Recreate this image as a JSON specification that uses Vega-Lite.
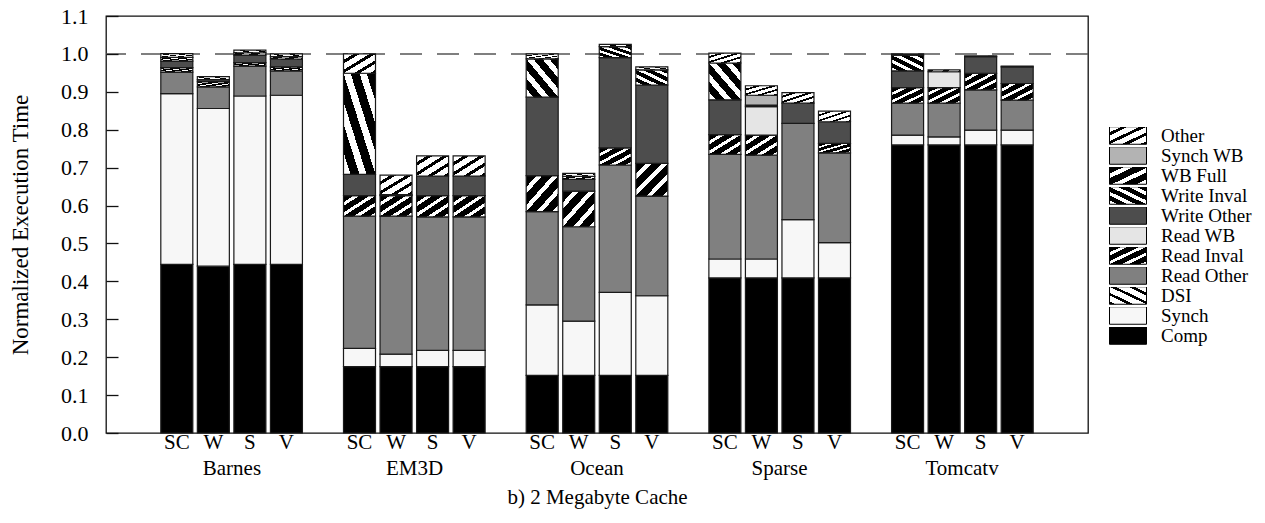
{
  "$schema": "https://vega.github.io/schema/vega-lite/v6.json",
  "width": 982,
  "height": 417,
  "autosize": {"type": "none"},
  "padding": {"left": 106, "top": 16, "right": 177, "bottom": 90},
  "background": "white",
  "config": {
    "font": "Liberation Serif",
    "view": {"stroke": "#111", "strokeWidth": 1.3},
    "axis": {"labelColor": "#000", "titleColor": "#000", "titleFontWeight": "normal", "labelFont": "Liberation Serif", "titleFont": "Liberation Serif"},
    "legend": {"labelColor": "#000", "labelFont": "Liberation Serif"}
  },
  "datasets": {
    "bars": [
      {"b": "Barnes", "c": "SC", "k": "Barnes SC", "Comp": 0.445, "Synch": 0.45, "Read Other": 0.057, "Read Inval": 0.012, "Write Other": 0.017, "Write Inval": 0.01, "Other": 0.01},
      {"b": "Barnes", "c": "W", "k": "Barnes W", "Comp": 0.44, "Synch": 0.416, "Read Other": 0.057, "Read Inval": 0.014, "Write Other": 0.005, "Other": 0.008},
      {"b": "Barnes", "c": "S", "k": "Barnes S", "Comp": 0.445, "Synch": 0.444, "Read Other": 0.079, "Read Inval": 0.009, "Write Other": 0.02, "Write Inval": 0.006, "Other": 0.007},
      {"b": "Barnes", "c": "V", "k": "Barnes V", "Comp": 0.445, "Synch": 0.446, "Read Other": 0.064, "Read Inval": 0.011, "Write Other": 0.02, "Write Inval": 0.007, "Other": 0.007},
      {"b": "EM3D", "c": "SC", "k": "EM3D SC", "Comp": 0.175, "Synch": 0.048, "Read Other": 0.349, "Read Inval": 0.054, "Write Other": 0.056, "Write Inval": 0.267, "Other": 0.051},
      {"b": "EM3D", "c": "W", "k": "EM3D W", "Comp": 0.175, "Synch": 0.033, "Read Other": 0.364, "Read Inval": 0.054, "Write Other": 0.003, "Other": 0.051},
      {"b": "EM3D", "c": "S", "k": "EM3D S", "Comp": 0.175, "Synch": 0.043, "Read Other": 0.352, "Read Inval": 0.056, "Write Other": 0.052, "Other": 0.053},
      {"b": "EM3D", "c": "V", "k": "EM3D V", "Comp": 0.175, "Synch": 0.043, "Read Other": 0.352, "Read Inval": 0.056, "Write Other": 0.052, "Other": 0.053},
      {"b": "Ocean", "c": "SC", "k": "Ocean SC", "Comp": 0.152, "Synch": 0.186, "Read Other": 0.246, "Read Inval": 0.095, "Write Other": 0.207, "Write Inval": 0.101, "Other": 0.013},
      {"b": "Ocean", "c": "W", "k": "Ocean W", "Comp": 0.152, "Synch": 0.143, "Read Other": 0.249, "Read Inval": 0.094, "Write Other": 0.031, "Write Inval": 0.008, "Other": 0.008},
      {"b": "Ocean", "c": "S", "k": "Ocean S", "Comp": 0.152, "Synch": 0.219, "Read Other": 0.336, "Read Inval": 0.045, "Write Other": 0.238, "Write Inval": 0.029, "Other": 0.006},
      {"b": "Ocean", "c": "V", "k": "Ocean V", "Comp": 0.152, "Synch": 0.21, "Read Other": 0.263, "Read Inval": 0.086, "Write Other": 0.207, "Write Inval": 0.04, "Other": 0.008},
      {"b": "Sparse", "c": "SC", "k": "Sparse SC", "Comp": 0.409, "Synch": 0.05, "Read Other": 0.276, "Read Inval": 0.052, "Write Other": 0.092, "Write Inval": 0.097, "Other": 0.026},
      {"b": "Sparse", "c": "W", "k": "Sparse W", "Comp": 0.409, "Synch": 0.05, "Read Other": 0.274, "Read Inval": 0.053, "Read WB": 0.075, "Write Other": 0.004, "Synch WB": 0.026, "Other": 0.025},
      {"b": "Sparse", "c": "S", "k": "Sparse S", "Comp": 0.409, "Synch": 0.154, "Read Other": 0.254, "Write Other": 0.053, "Other": 0.028},
      {"b": "Sparse", "c": "V", "k": "Sparse V", "Comp": 0.409, "Synch": 0.093, "Read Other": 0.237, "Read Inval": 0.025, "Write Other": 0.057, "Other": 0.028},
      {"b": "Tomcatv", "c": "SC", "k": "Tomcatv SC", "Comp": 0.76, "Synch": 0.026, "Read Other": 0.084, "Read Inval": 0.041, "Write Other": 0.044, "Write Inval": 0.042, "Other": 0.003},
      {"b": "Tomcatv", "c": "W", "k": "Tomcatv W", "Comp": 0.76, "Synch": 0.021, "Read Other": 0.089, "Read Inval": 0.041, "Read WB": 0.042, "Other": 0.005},
      {"b": "Tomcatv", "c": "S", "k": "Tomcatv S", "Comp": 0.76, "Synch": 0.039, "Read Other": 0.106, "Read Inval": 0.044, "Write Other": 0.044, "Other": 0.002},
      {"b": "Tomcatv", "c": "V", "k": "Tomcatv V", "Comp": 0.76, "Synch": 0.039, "Read Other": 0.079, "Read Inval": 0.044, "Write Other": 0.044, "Other": 0.002}
    ],
    "cats": [
      {"cat": "Comp", "rank": 0},
      {"cat": "Synch", "rank": 1},
      {"cat": "DSI", "rank": 2},
      {"cat": "Read Other", "rank": 3},
      {"cat": "Read Inval", "rank": 4},
      {"cat": "Read WB", "rank": 5},
      {"cat": "Write Other", "rank": 6},
      {"cat": "Write Inval", "rank": 7},
      {"cat": "WB Full", "rank": 8},
      {"cat": "Synch WB", "rank": 9},
      {"cat": "Other", "rank": 10}
    ],
    "groups": [
      {"b": "Barnes"}, {"b": "EM3D"}, {"b": "Ocean"}, {"b": "Sparse"}, {"b": "Tomcatv"}
    ]
  },
  "layer": [
    {
      "data": {"values": [{"ref": 1}]},
      "mark": {"type": "rule", "strokeDash": [22, 15], "color": "#555", "strokeWidth": 1.5},
      "encoding": {"y": {"field": "ref", "type": "quantitative",
        "scale": {"domain": [0, 1.1], "nice": false, "zero": true},
        "axis": {"values": [0, 0.1, 0.2, 0.3, 0.4, 0.5, 0.6, 0.7, 0.8, 0.9, 1.0, 1.1], "format": ".1f", "grid": false, "domain": false, "labelOverlap": false, "zindex": 1,
          "offset": -12, "tickSize": 12, "tickColor": "#111", "tickWidth": 1.3, "labelFontSize": 22, "labelPadding": 18,
          "title": "Normalized Execution Time", "titleFontSize": 23, "titlePadding": 28}}}
    },
    {
      "data": {"name": "bars"},
      "transform": [
        {"fold": ["Comp", "Synch", "DSI", "Read Other", "Read Inval", "Read WB", "Write Other", "Write Inval", "WB Full", "Synch WB", "Other"], "as": ["cat", "v"]},
        {"filter": "datum.v > 0"},
        {"lookup": "cat", "from": {"data": {"name": "cats"}, "key": "cat", "fields": ["rank"]}}
      ],
      "mark": {"type": "bar", "stroke": "#1a1a1a", "strokeWidth": 1.2},
      "encoding": {
        "x": {
          "field": "k", "type": "nominal",
          "scale": {
            "domain": ["gapL", "Barnes SC", "Barnes W", "Barnes S", "Barnes V", "gap1", "EM3D SC", "EM3D W", "EM3D S", "EM3D V", "gap2", "Ocean SC", "Ocean W", "Ocean S", "Ocean V", "gap3", "Sparse SC", "Sparse W", "Sparse S", "Sparse V", "gap4", "Tomcatv SC", "Tomcatv W", "Tomcatv S", "Tomcatv V", "gapR"],
            "paddingInner": 0.124, "paddingOuter": 0.5
          },
          "axis": {"orient": "bottom", "domain": false, "ticks": false, "labelAngle": 0, "labelFontSize": 21, "labelPadding": -2, "title": null, "labelOverlap": false,
            "labelExpr": "indexof(datum.value, 'gap') == 0 ? '' : split(datum.value, ' ')[1]"}
        },
        "y": {
          "field": "v", "type": "quantitative", "stack": "zero",
          "scale": {"domain": [0, 1.1], "nice": false, "zero": true},
          "axis": {"values": [0, 0.1, 0.2, 0.3, 0.4, 0.5, 0.6, 0.7, 0.8, 0.9, 1.0, 1.1], "format": ".1f", "grid": false, "domain": false, "labelOverlap": false, "zindex": 1,
            "offset": -12, "tickSize": 12, "tickColor": "#111", "tickWidth": 1.3, "labelFontSize": 22, "labelPadding": 18,
            "title": "Normalized Execution Time", "titleFontSize": 23, "titlePadding": 28}
        },
        "color": {
          "field": "cat", "type": "nominal",
          "scale": {
            "domain": ["Other", "Synch WB", "WB Full", "Write Inval", "Write Other", "Read WB", "Read Inval", "Read Other", "DSI", "Synch", "Comp"],
            "range": [
              {"expr": "{gradient: 'linear', x1: 0, y1: 0, x2: 1, y2: 1, stops: [{offset: 0, color: '#fff'}, {offset: 0.16, color: '#fff'}, {offset: 0.16, color: '#000'}, {offset: 0.25, color: '#000'}, {offset: 0.25, color: '#fff'}, {offset: 0.41, color: '#fff'}, {offset: 0.41, color: '#000'}, {offset: 0.5, color: '#000'}, {offset: 0.5, color: '#fff'}, {offset: 0.66, color: '#fff'}, {offset: 0.66, color: '#000'}, {offset: 0.75, color: '#000'}, {offset: 0.75, color: '#fff'}, {offset: 0.91, color: '#fff'}, {offset: 0.91, color: '#000'}, {offset: 1, color: '#000'}]}"},
              "#b3b3b3",
              {"expr": "{gradient: 'linear', x1: 0, y1: 0, x2: 1, y2: 1, stops: [{offset: 0, color: '#000'}, {offset: 0.2, color: '#000'}, {offset: 0.2, color: '#fff'}, {offset: 0.33, color: '#fff'}, {offset: 0.33, color: '#000'}, {offset: 0.53, color: '#000'}, {offset: 0.53, color: '#fff'}, {offset: 0.66, color: '#fff'}, {offset: 0.66, color: '#000'}, {offset: 0.86, color: '#000'}, {offset: 0.86, color: '#fff'}, {offset: 1, color: '#fff'}]}"},
              {"expr": "{gradient: 'linear', x1: 1, y1: 0, x2: 0, y2: 1, stops: [{offset: 0, color: '#000'}, {offset: 0.14, color: '#000'}, {offset: 0.14, color: '#fff'}, {offset: 0.25, color: '#fff'}, {offset: 0.25, color: '#000'}, {offset: 0.39, color: '#000'}, {offset: 0.39, color: '#fff'}, {offset: 0.5, color: '#fff'}, {offset: 0.5, color: '#000'}, {offset: 0.64, color: '#000'}, {offset: 0.64, color: '#fff'}, {offset: 0.75, color: '#fff'}, {offset: 0.75, color: '#000'}, {offset: 0.89, color: '#000'}, {offset: 0.89, color: '#fff'}, {offset: 1, color: '#fff'}]}"},
              "#4d4d4d",
              "#e5e5e5",
              {"expr": "{gradient: 'linear', x1: 0, y1: 0, x2: 1, y2: 1, stops: [{offset: 0, color: '#000'}, {offset: 0.16, color: '#000'}, {offset: 0.16, color: '#fff'}, {offset: 0.25, color: '#fff'}, {offset: 0.25, color: '#000'}, {offset: 0.41, color: '#000'}, {offset: 0.41, color: '#fff'}, {offset: 0.5, color: '#fff'}, {offset: 0.5, color: '#000'}, {offset: 0.66, color: '#000'}, {offset: 0.66, color: '#fff'}, {offset: 0.75, color: '#fff'}, {offset: 0.75, color: '#000'}, {offset: 0.91, color: '#000'}, {offset: 0.91, color: '#fff'}, {offset: 1, color: '#fff'}]}"},
              "#808080",
              {"expr": "{gradient: 'linear', x1: 1, y1: 0, x2: 0, y2: 1, stops: [{offset: 0, color: '#fff'}, {offset: 0.17, color: '#fff'}, {offset: 0.17, color: '#000'}, {offset: 0.25, color: '#000'}, {offset: 0.25, color: '#fff'}, {offset: 0.42, color: '#fff'}, {offset: 0.42, color: '#000'}, {offset: 0.5, color: '#000'}, {offset: 0.5, color: '#fff'}, {offset: 0.67, color: '#fff'}, {offset: 0.67, color: '#000'}, {offset: 0.75, color: '#000'}, {offset: 0.75, color: '#fff'}, {offset: 0.92, color: '#fff'}, {offset: 0.92, color: '#000'}, {offset: 1, color: '#000'}]}"},
              "#f7f7f7",
              "#000000"
            ]
          },
          "legend": {
            "orient": "none", "legendX": 999, "legendY": 111, "title": null,
            "symbolType": "M-1,-1.75H6.4V1.75H-1Z", "symbolSize": 100, "symbolStrokeColor": "#000", "symbolStrokeWidth": 1, "symbolOpacity": 1,
            "labelFontSize": 19, "labelOffset": 37, "rowPadding": 0, "clipHeight": 17, "columns": 1
          }
        },
        "order": {"field": "rank", "type": "quantitative"}
      }
    },
    {
      "data": {"name": "groups"},
      "mark": {"type": "point", "opacity": 0},
      "encoding": {
        "x": {
          "field": "b", "type": "nominal",
          "scale": {"type": "band", "paddingInner": 0, "paddingOuter": 0.19},
          "axis": {"orient": "bottom", "offset": 24, "domain": false, "ticks": false, "labelAngle": 0, "labelFontSize": 21, "labelPadding": 0,
            "title": "b) 2 Megabyte Cache", "titleFontSize": 21, "titlePadding": 8}
        }
      }
    }
  ],
  "resolve": {"scale": {"x": "independent"}, "axis": {"x": "independent"}}
}
